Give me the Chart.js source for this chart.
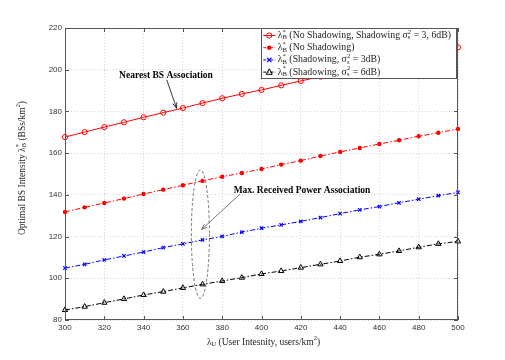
<!DOCTYPE html>
<html>
<head>
<meta charset="utf-8">
<script src="https://cdn.jsdelivr.net/npm/chart.js@4.4.0/dist/chart.umd.min.js"></script>
<style>
  html, body { margin: 0; padding: 0; background: #fff; }
  #wrap { width: 505px; height: 360px; }
</style>
</head>
<body>
<div id="wrap"><canvas id="chart" width="505" height="360"></canvas></div>
<script>
// user intensity (users/km^2)
var userIntensity = [300, 310, 320, 330, 340, 350, 360, 370, 380, 390, 400,
                     410, 420, 430, 440, 450, 460, 470, 480, 490, 500];

// optimal BS intensity
var nearestBS   = [167.7, 170.1, 172.5, 174.8, 177.2, 179.4, 181.6, 184.0, 186.3, 188.4, 190.3,
                   192.5, 194.6, 196.7, 198.7, 200.8, 202.8, 204.8, 206.8, 208.8, 210.7];
var noShadowing = [131.8, 134.0, 136.1, 138.2, 140.4, 142.5, 144.6, 146.7, 148.7, 150.5, 152.4,
                   154.5, 156.4, 158.6, 160.6, 162.5, 164.4, 166.2, 168.1, 169.8, 171.6];
var shadow3dB   = [104.9, 106.7, 108.8, 110.7, 112.6, 114.7, 116.5, 118.4, 120.1, 122.1, 124.0,
                   125.6, 127.3, 129.1, 131.0, 132.8, 134.4, 136.2, 137.9, 139.6, 141.2];
var shadow6dB   = [84.8, 86.4, 88.3, 90.1, 92.0, 93.6, 95.4, 97.1, 98.7, 100.3, 102.1,
                   103.5, 105.1, 106.7, 108.3, 110.1, 111.5, 113.1, 114.9, 116.5, 117.7];

var xTicks = [300, 320, 340, 360, 380, 400, 420, 440, 460, 480, 500];
var yTicks = [80, 100, 120, 140, 160, 180, 200, 220];

var legendLabels = [
    'λ^{*}_{B} (No Shadowing, Shadowing σ^{2}_{s} = 3, 6dB)',
    'λ^{*}_{B} (No Shadowing)',
    'λ^{*}_{B} (Shadowing, σ^{2}_{s} = 3dB)',
    'λ^{*}_{B} (Shadowing, σ^{2}_{s} = 6dB)'
];
var xTitle = 'λ_{U} (User Intesnity, users/km^{2})';
var yTitle = 'Optimal BS Intensity λ^{*}_{B} (BSs/km^{2})';

var SERIF = '"Liberation Serif", "DejaVu Serif", serif';
var SANS = '"Liberation Sans", Arial, sans-serif';
var DASHDOT = [5, 2, 1.5, 2];

function pts(ys) {
    var out = [];
    for (var i = 0; i < userIntensity.length; i++) out.push({x: userIntensity[i], y: ys[i]});
    return out;
}

// text with ^{..} and _{..} pieces, drawn on the canvas
function parseRich(str) {
    var parts = [], buf = '', i = 0;
    while (i < str.length) {
        var c = str[i];
        if ((c === '^' || c === '_') && str[i + 1] === '{') {
            if (buf) { parts.push({t: buf, m: ''}); buf = ''; }
            var end = str.indexOf('}', i);
            parts.push({t: str.slice(i + 2, end), m: c});
            i = end + 1;
        } else { buf += c; i++; }
    }
    if (buf) parts.push({t: buf, m: ''});
    return parts;
}

function layoutRich(ctx, str, size, family, weight) {
    var parts = parseRich(str);
    var x = 0, supStart = null, supW = 0;
    for (var i = 0; i < parts.length; i++) {
        var p = parts[i];
        var fs = p.m ? size * 0.68 : size;
        p.font = (weight || '') + ' ' + fs + 'px ' + family;
        ctx.font = p.font;
        p.w = ctx.measureText(p.t).width;
        if (p.m === '_' && i > 0 && parts[i - 1].m === '^') {
            p.x = supStart;
            x = supStart + Math.max(supW, p.w);
        } else {
            p.x = x;
            if (p.m === '^') { supStart = x; supW = p.w; }
            x += p.w;
        }
        p.dy = p.m === '^' ? -size * 0.38 : (p.m === '_' ? size * 0.22 : 0);
    }
    return {parts: parts, width: x};
}

function drawRich(ctx, str, x, y, size, family, weight, align, color) {
    var lay = layoutRich(ctx, str, size, family, weight);
    var x0 = x;
    if (align === 'center') x0 = x - lay.width / 2;
    if (align === 'right') x0 = x - lay.width;
    ctx.save();
    ctx.fillStyle = color || '#000';
    ctx.textBaseline = 'middle';
    ctx.textAlign = 'left';
    lay.parts.forEach(function (p) {
        ctx.font = p.font;
        ctx.fillText(p.t, x0 + p.x, y + p.dy);
    });
    ctx.restore();
    return lay.width;
}

function drawMarker(ctx, style, x, y, color) {
    ctx.save();
    ctx.strokeStyle = color;
    ctx.fillStyle = color;
    ctx.setLineDash([]);
    ctx.lineWidth = 1;
    ctx.beginPath();
    if (style === 'circle') {
        ctx.arc(x, y, 2.6, 0, Math.PI * 2);
        ctx.stroke();
    } else if (style === 'dot') {
        ctx.arc(x, y, 2.2, 0, Math.PI * 2);
        ctx.fill();
    } else if (style === 'cross') {
        ctx.lineWidth = 1.2;
        ctx.moveTo(x - 2.2, y - 2.2); ctx.lineTo(x + 2.2, y + 2.2);
        ctx.moveTo(x + 2.2, y - 2.2); ctx.lineTo(x - 2.2, y + 2.2);
        ctx.stroke();
    } else if (style === 'triangle') {
        ctx.moveTo(x, y - 3.3); ctx.lineTo(x + 3, y + 2.2); ctx.lineTo(x - 3, y + 2.2);
        ctx.closePath();
        ctx.stroke();
    }
    ctx.restore();
}

function arrow(ctx, x1, y1, x2, y2, color) {
    var a = Math.atan2(y2 - y1, x2 - x1), h = 6;
    ctx.save();
    ctx.strokeStyle = color;
    ctx.lineWidth = 0.8;
    ctx.beginPath();
    ctx.moveTo(x1, y1); ctx.lineTo(x2, y2);
    ctx.moveTo(x2 - h * Math.cos(a - 0.35), y2 - h * Math.sin(a - 0.35));
    ctx.lineTo(x2, y2);
    ctx.lineTo(x2 - h * Math.cos(a + 0.35), y2 - h * Math.sin(a + 0.35));
    ctx.stroke();
    ctx.restore();
}

var markerStyles = ['circle', 'dot', 'cross', 'triangle'];
var seriesColors = ['#ff0000', '#ff0000', '#0000ff', '#000000'];

var decorations = {
    id: 'decorations',
    afterDatasetsDraw: function (chart) {
        var ctx = chart.ctx, a = chart.chartArea;
        var xs = chart.scales.x, ys = chart.scales.y;

        // frame + inward ticks
        ctx.save();
        ctx.strokeStyle = '#555';
        ctx.lineWidth = 1;
        ctx.setLineDash([]);
        ctx.strokeRect(a.left + 0.5, a.top + 0.5, a.right - a.left - 1, a.bottom - a.top - 1);
        ctx.beginPath();
        xTicks.forEach(function (v) {
            var px = Math.round(xs.getPixelForValue(v)) + 0.5;
            ctx.moveTo(px, a.bottom); ctx.lineTo(px, a.bottom - 4);
            ctx.moveTo(px, a.top); ctx.lineTo(px, a.top + 4);
        });
        yTicks.forEach(function (v) {
            var py = Math.round(ys.getPixelForValue(v)) + 0.5;
            ctx.moveTo(a.left, py); ctx.lineTo(a.left + 4, py);
            ctx.moveTo(a.right, py); ctx.lineTo(a.right - 4, py);
        });
        ctx.stroke();
        ctx.restore();

        // annotations
        var ellX = xs.getPixelForValue(368.9), ellY = ys.getPixelForValue(121.2);
        ctx.save();
        ctx.strokeStyle = '#555';
        ctx.lineWidth = 0.8;
        ctx.setLineDash([3, 2]);
        ctx.beginPath();
        ctx.ellipse(ellX, ellY, xs.getPixelForValue(373.5) - ellX, ellY - ys.getPixelForValue(152), 0, 0, Math.PI * 2);
        ctx.stroke();
        ctx.restore();

        drawRich(ctx, 'Nearest BS Association', xs.getPixelForValue(351.4), ys.getPixelForValue(197.0),
                 9.5, SERIF, 'bold', 'center', '#000');
        arrow(ctx, xs.getPixelForValue(351.8), ys.getPixelForValue(195.1),
              xs.getPixelForValue(356.8), ys.getPixelForValue(181.5), '#000');
        drawRich(ctx, 'Max. Received Power Association', xs.getPixelForValue(420.6), ys.getPixelForValue(142.0),
                 9.5, SERIF, 'bold', 'center', '#000');
        arrow(ctx, xs.getPixelForValue(389.1), ys.getPixelForValue(140.4),
              xs.getPixelForValue(369.5), ys.getPixelForValue(123.4), '#555');

        // legend box inside the plot, top right
        var size = 9.8, maxW = 0;
        legendLabels.forEach(function (l) {
            maxW = Math.max(maxW, layoutRich(ctx, l, size, SERIF).width);
        });
        var bw = 17 + maxW + 5, bh = 50;
        var bx = a.right - 2 - bw, by = a.top;
        ctx.save();
        ctx.fillStyle = '#fff';
        ctx.fillRect(bx, by, bw, bh);
        ctx.strokeStyle = '#555';
        ctx.lineWidth = 1;
        ctx.strokeRect(Math.round(bx) + 0.5, by + 0.5, Math.round(bw), bh);
        ctx.restore();
        legendLabels.forEach(function (l, i) {
            var ry = by + 7.5 + i * 12.2;
            ctx.save();
            ctx.strokeStyle = seriesColors[i];
            ctx.lineWidth = 1;
            ctx.setLineDash(i === 0 ? [] : [3, 1.5, 1, 1.5]);
            ctx.beginPath();
            ctx.moveTo(bx + 2.5, ry); ctx.lineTo(bx + 14.5, ry);
            ctx.stroke();
            ctx.restore();
            drawMarker(ctx, markerStyles[i], bx + 8.5, ry, seriesColors[i]);
            drawRich(ctx, l, bx + 17, ry, size, SERIF, '', 'left', '#222');
        });

        // axis titles
        drawRich(ctx, xTitle, (a.left + a.right) / 2 + 2, 342, 9.5, SERIF, '', 'center', '#222');
        ctx.save();
        ctx.translate(22, (a.top + a.bottom) / 2 - 6);
        ctx.rotate(-Math.PI / 2);
        drawRich(ctx, yTitle, 0, 0, 9.5, SERIF, '', 'center', '#222');
        ctx.restore();
    }
};

function makeSet(ys, i, dash, pStyle, radius, fill, bw) {
    return {
        data: pts(ys),
        borderColor: seriesColors[i],
        borderWidth: 1,
        borderDash: dash,
        pointStyle: pStyle,
        pointRadius: radius,
        pointBorderColor: seriesColors[i],
        pointBackgroundColor: fill,
        pointBorderWidth: bw,
        tension: 0,
        clip: 8
    };
}

var chart = new Chart(document.getElementById('chart'), {
    type: 'line',
    data: {
        datasets: [
            makeSet(nearestBS, 0, [], 'circle', 2.6, 'rgba(0,0,0,0)', 1),
            makeSet(noShadowing, 1, DASHDOT, 'circle', 2.2, '#ff0000', 0),
            makeSet(shadow3dB, 2, DASHDOT, 'crossRot', 2.4, '#0000ff', 1.2),
            makeSet(shadow6dB, 3, DASHDOT, 'triangle', 3.1, 'rgba(0,0,0,0)', 1)
        ]
    },
    options: {
        responsive: false,
        animation: false,
        devicePixelRatio: 1,
        layout: { padding: { left: 0, top: 28, right: 47, bottom: 0 } },
        plugins: { legend: { display: false }, tooltip: { enabled: false } },
        scales: {
            x: {
                type: 'linear',
                min: 300, max: 500,
                afterBuildTicks: function (s) { s.ticks = xTicks.map(function (v) { return {value: v}; }); },
                afterFit: function (s) { s.height = 40; },
                grid: { color: '#d4d4d4', drawTicks: false, lineWidth: 1 },
                border: { display: false, dash: [1, 2] },
                ticks: { color: '#333', font: { family: SANS, size: 8 }, padding: 3, maxRotation: 0 }
            },
            y: {
                min: 80, max: 220,
                afterBuildTicks: function (s) { s.ticks = yTicks.map(function (v) { return {value: v}; }); },
                afterFit: function (s) { s.width = 65; },
                grid: { color: '#d4d4d4', drawTicks: false, lineWidth: 1 },
                border: { display: false, dash: [1, 2] },
                ticks: { color: '#333', font: { family: SANS, size: 8 }, padding: 3 }
            }
        }
    },
    plugins: [decorations]
});
</script>
</body>
</html>
